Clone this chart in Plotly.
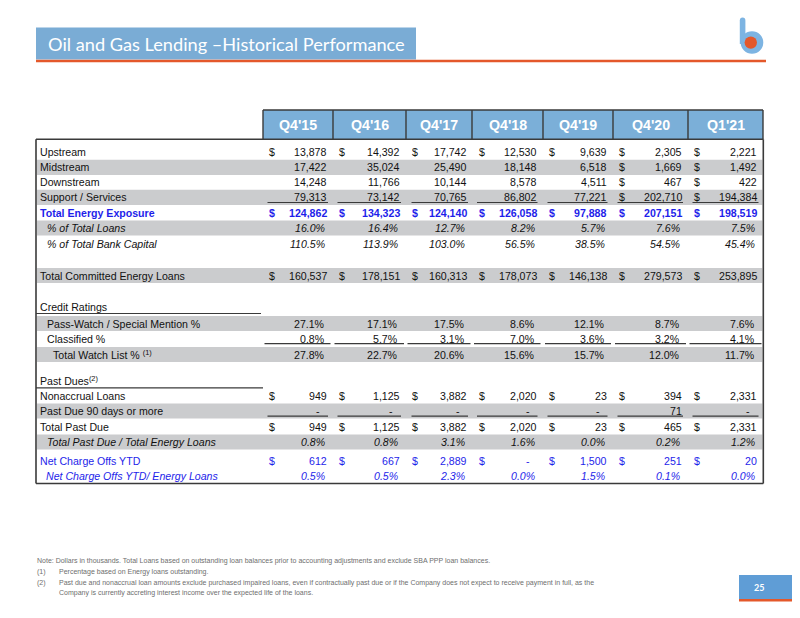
import plotly.graph_objects as go

# ---------------- data ----------------
periods = ["Q4'15", "Q4'16", "Q4'17", "Q4'18", "Q4'19", "Q4'20", "Q1'21"]
upstream = [13878, 14392, 17742, 12530, 9639, 2305, 2221]
midstream = [17422, 35024, 25490, 18148, 6518, 1669, 1492]
downstream = [14248, 11766, 10144, 8578, 4511, 467, 422]
support_services = [79313, 73142, 70765, 86802, 77221, 202710, 194384]
total_energy = [124862, 134323, 124140, 126058, 97888, 207151, 198519]
pct_total_loans = [16.0, 16.4, 12.7, 8.2, 5.7, 7.6, 7.5]
pct_bank_capital = [110.5, 113.9, 103.0, 56.5, 38.5, 54.5, 45.4]
total_committed = [160537, 178151, 160313, 178073, 146138, 279573, 253895]
pass_watch = [27.1, 17.1, 17.5, 8.6, 12.1, 8.7, 7.6]
classified = [0.8, 5.7, 3.1, 7.0, 3.6, 3.2, 4.1]
total_watch = [27.8, 22.7, 20.6, 15.6, 15.7, 12.0, 11.7]
nonaccrual = [949, 1125, 3882, 2020, 23, 394, 2331]
past_due_90 = [0, 0, 0, 0, 0, 71, 0]
total_past_due = [949, 1125, 3882, 2020, 23, 465, 2331]
past_due_ratio = [0.8, 0.8, 3.1, 1.6, 0.0, 0.2, 1.2]
net_charge_offs = [612, 667, 2889, 0, 1500, 251, 20]
nco_ratio = [0.5, 0.5, 2.3, 0.0, 1.5, 0.1, 0.0]

title_text = "Oil and Gas Lending \u2013Historical Performance"
page_number = "25"
footnotes = [
    ("Note:", "Dollars in thousands. Total Loans based on outstanding loan balances prior to accounting adjustments and exclude SBA PPP loan balances."),
    ("(1)", "Percentage based on Energy loans outstanding."),
    ("(2)", "Past due and nonaccrual loan amounts exclude purchased impaired loans, even if contractually past due or if the Company does not expect to receive payment in full, as the"),
    ("", "Company is currently accreting interest income over the expected life of the loans."),
]

# ---------------- layout geometry / styles ----------------
FONT = "Arial, Liberation Sans, sans-serif"
BLUE_TXT = "#1E1EEA"
GRAY_BAND = "#CBCCCE"
HDR_BLUE = "#7BAFD8"
ORANGE = "#E4582B"
LINE = "#3a3a3a"
FS = 10.6
FN_COLOR = "#6e6e6e"
FN_SIZE = 7.0

col_edges = [263, 333, 406, 472, 543, 613, 688, 763]
dollar_x = [267.5, 337.5, 410.5, 477.5, 547.5, 617.5, 692.5]
num_right = [328, 401, 467.5, 537.5, 607.5, 683, 758]
ul_short = [(267.5, 328), (337.5, 401), (411.5, 468), (477, 537.5), (547.5, 607.5), (617.5, 683), (692.5, 758.5)]
ul_wide = [(264.5, 330.5), (334.5, 404), (407.5, 470.5), (474, 540.5), (545, 611), (615, 686), (689.5, 761.5)]

ALL = [True] * 7
LAST2 = [False] * 5 + [True] * 2
NONE = [False] * 7

rows = [
    dict(label="Upstream", y=152.3, vals=upstream, fmt="money", dollars=ALL),
    dict(label="Midstream", y=167.3, vals=midstream, fmt="money", dollars=LAST2, shade=True),
    dict(label="Downstream", y=182.3, vals=downstream, fmt="money", dollars=LAST2),
    dict(label="Support / Services", y=197.3, vals=support_services, fmt="money", dollars=LAST2, shade=True, ul="short"),
    dict(label="<b>Total Energy Exposure</b>", y=212.5, vals=total_energy, fmt="money", dollars=ALL, color=BLUE_TXT, bold=True),
    dict(label="<i>% of Total Loans</i>", y=228.0, vals=pct_total_loans, fmt="pct", italic=True, shade=True, x=46),
    dict(label="<i>% of Total Bank Capital</i>", y=243.6, vals=pct_bank_capital, fmt="pct", italic=True, x=46),
    dict(label="Total Committed Energy Loans", y=275.5, vals=total_committed, fmt="money", dollars=ALL, shade=True),
    dict(label="Credit Ratings", y=306.6, vals=None),
    dict(label="Pass-Watch / Special Mention %", y=323.5, vals=pass_watch, fmt="pct", shade=True, x=45.5),
    dict(label="Classified %", y=339.0, vals=classified, fmt="pct", x=45.5, ul="wide"),
    dict(label="Total Watch List % <sup>(1)</sup>", y=354.5, vals=total_watch, fmt="pct", shade=True, x=52),
    dict(label="Past Dues<sup>(2)</sup>", y=380.0, vals=None),
    dict(label="Nonaccrual Loans", y=396.0, vals=nonaccrual, fmt="money", dollars=ALL),
    dict(label="Past Due 90 days or more", y=411.0, vals=past_due_90, fmt="money", dollars=NONE, shade=True, ul="short"),
    dict(label="Total Past Due", y=426.7, vals=total_past_due, fmt="money", dollars=ALL),
    dict(label="<i>Total Past Due / Total Energy Loans</i>", y=442.0, vals=past_due_ratio, fmt="pct", italic=True, shade=True, x=46),
    dict(label="Net Charge Offs YTD", y=461.3, vals=net_charge_offs, fmt="money", dollars=ALL, color=BLUE_TXT),
    dict(label="<i>Net Charge Offs YTD/ Energy Loans</i>", y=476.3, vals=nco_ratio, fmt="pct", italic=True, color=BLUE_TXT, x=45),
]

shapes = []
annotations = []


def rect(x0, y0, x1, y1, fill, line=None, lw=0):
    shapes.append(dict(type="rect", xref="x", yref="y", x0=x0, y0=y0, x1=x1, y1=y1,
                       fillcolor=fill, line=dict(color=line or fill, width=lw), layer="below"))


def hline(x0, x1, y, color=LINE, w=1.2):
    shapes.append(dict(type="line", xref="x", yref="y", x0=x0, x1=x1, y0=y, y1=y,
                       line=dict(color=color, width=w)))


def vline(x, y0, y1, color=LINE, w=1.2):
    shapes.append(dict(type="line", xref="x", yref="y", x0=x, x1=x, y0=y0, y1=y1,
                       line=dict(color=color, width=w)))


def text(x, y, s, size=FS, color="#111", anchor="left", family=FONT):
    annotations.append(dict(x=x, y=y, xref="x", yref="y", text=s, showarrow=False,
                            xanchor=anchor, yanchor="middle", borderpad=0,
                            font=dict(family=family, size=size, color=color)))


# ---- title bar ----
rect(36, 27.5, 416, 59.5, "#7AACD5")
text(46.5, 43.5, title_text, size=18.2, color="white", family="Lato, Open Sans, sans-serif")
hline(36, 766, 61, ORANGE, 2.6)

# ---- logo ----
shapes.append(dict(type="path", xref="x", yref="y",
                   path="M 739.8 44 L 739.8 20.5 Q 739.8 17.5 742.6 17.5 Q 745.4 17.5 745.4 20.5 L 745.4 44 Z",
                   fillcolor="#7DB4E2", line=dict(width=0)))
shapes.append(dict(type="circle", xref="x", yref="y", x0=740.7, x1=763.3, y0=31.2, y1=53.8,
                   fillcolor="#7DB4E2", line=dict(width=0)))
shapes.append(dict(type="circle", xref="x", yref="y", x0=744.6, x1=757.0, y0=36.4, y1=48.8,
                   fillcolor=ORANGE, line=dict(width=0)))

# ---- header ----
rect(col_edges[0], 110, col_edges[-1], 139, HDR_BLUE)
hline(col_edges[0], col_edges[-1], 110, LINE, 1.4)
for xe in col_edges:
    vline(xe, 110, 139, LINE, 1.4)
for i, p in enumerate(periods):
    text((col_edges[i] + col_edges[i + 1]) / 2, 124.5, "<b>%s</b>" % p, size=14.2, color="white", anchor="center")

# ---- row bands ----
for r in rows:
    if r.get("shade"):
        rect(37, r["y"] - 7.6, 762.3, r["y"] + 7.6, GRAY_BAND)

# ---- frame ----
hline(36, 763.3, 139.3, LINE, 1.6)
vline(36, 139.3, 483.5, LINE, 1.6)
vline(763.3, 139.3, 483.5, LINE, 1.6)
hline(36, 763.3, 483.5, LINE, 1.6)

# section underlines
hline(36, 261, 313.5, LINE, 1.2)
hline(36, 263, 387.8, LINE, 1.2)


def fmt_money(v):
    return "-" if v == 0 else f"{v:,}"


for r in rows:
    color = r.get("color", "#111")
    text(r.get("x", 39), r["y"], r["label"], color=color)
    vals = r["vals"]
    if vals is None:
        continue
    for i, v in enumerate(vals):
        if r["fmt"] == "money":
            s = fmt_money(v)
            xr = num_right[i] - (7 if v == 0 else 0)
            if r.get("bold"):
                s = "<b>%s</b>" % s
            text(xr, r["y"], s, color=color, anchor="right")
            if r["dollars"][i]:
                d = "<b>$</b>" if r.get("bold") else "$"
                text(dollar_x[i], r["y"], d, color=color)
        else:
            s = f"{v:.1f}%"
            if r.get("italic"):
                s = "<i>%s</i>" % s
            text(num_right[i] - 2, r["y"], s, color=color, anchor="right")
    if r.get("ul"):
        segs = ul_short if r["ul"] == "short" else ul_wide
        yy = r["y"] + (5.2 if r["ul"] == "short" else 4.6)
        for (a, b) in segs:
            hline(a, b, yy, LINE, 1.2)

# ---- footnotes ----
fn_y = [561, 572, 582.5, 592.5]
for (tag, body), yy in zip(footnotes, fn_y):
    if tag == "Note:":
        text(36, yy, tag + " " + body, size=FN_SIZE, color=FN_COLOR)
    else:
        if tag:
            text(36, yy, tag, size=FN_SIZE, color=FN_COLOR)
        text(58, yy, body, size=FN_SIZE, color=FN_COLOR)

# ---- page number ----
rect(739, 575, 800, 599, "#5F9DD6")
hline(739, 800, 600.2, ORANGE, 2.4)
text(758.5, 587.5, "<b>" + page_number + "</b>", size=9, color="white", anchor="center",
     family="Lato, Open Sans, sans-serif")

# The page body has an 8px margin: use a 792x610 plot with axes starting at 8
# so one axis unit equals one window pixel.
fig = go.Figure()
fig.add_trace(go.Scatter(x=[8, 800], y=[8, 618], mode="markers", marker=dict(opacity=0),
                         hoverinfo="skip", showlegend=False))
fig.update_layout(
    width=792, height=610,
    margin=dict(l=0, r=0, t=0, b=0),
    paper_bgcolor="white", plot_bgcolor="white",
    xaxis=dict(range=[8, 800], visible=False, fixedrange=True),
    yaxis=dict(range=[618, 8], visible=False, fixedrange=True),
    shapes=shapes, annotations=annotations, showlegend=False,
)
fig.write_html("out.html", config={"displayModeBar": False})
